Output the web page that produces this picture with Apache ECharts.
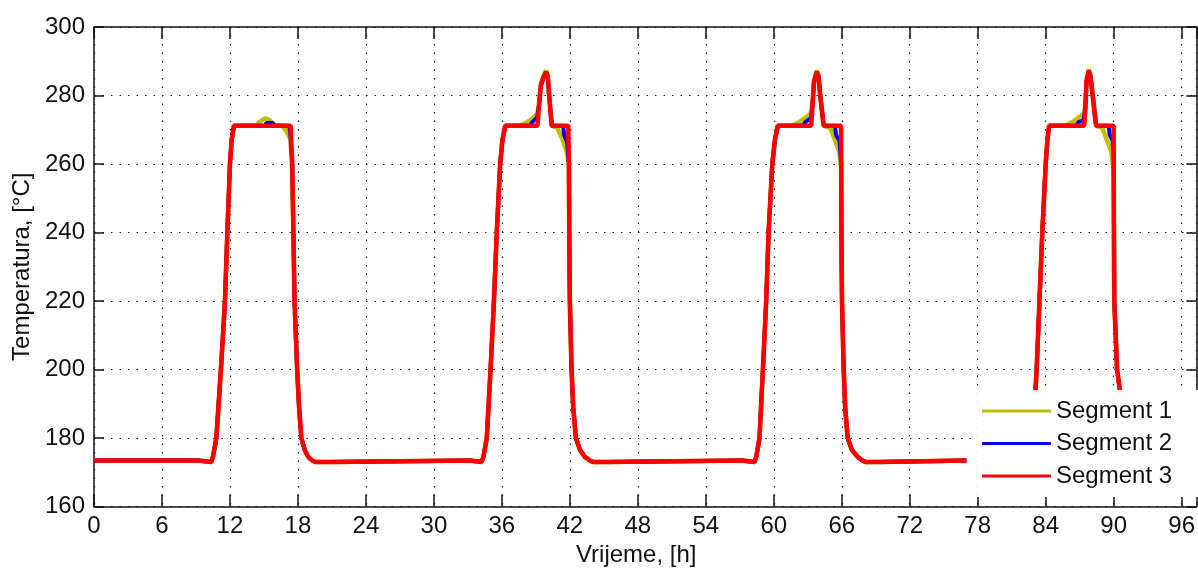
<!DOCTYPE html>
<html>
<head>
<meta charset="utf-8">
<script src="https://cdn.jsdelivr.net/npm/echarts@6/dist/echarts.min.js"></script>
<style>
html,body{margin:0;padding:0;background:#fff;}
#chart{width:1198px;height:575px;}
</style>
</head>
<body>
<div id="chart"></div>
<script>
// ---- data: [hour, temperature °C] ----
var seriesNames = ['Segment 1', 'Segment 2', 'Segment 3'];
var xTicks = [0, 6, 12, 18, 24, 30, 36, 42, 48, 54, 60, 66, 72, 78, 84, 90, 96];
var yTicks = [160, 180, 200, 220, 240, 260, 280, 300];

var segment1 = [
  [0,173.4],[9.2,173.4],[9.35,173.0],[10.35,173.0],[10.5,174.5],[10.8,180],[11.0,190],[11.2,200],[11.4,211],[11.56,220],[11.77,240],[12.0,260],[12.15,267],[12.35,271.2],
  [14.3,271.3],[14.7,272.5],[15.1,273.3],[15.5,272.8],[15.9,271.5],[16.6,271.2],[17.0,269.5],[17.3,267.5],[17.45,262],[17.6,240],[17.7,220],[17.93,200],[18.1,189],[18.3,180],[18.6,176.5],[18.9,174.5],[19.2,173.6],[19.55,173.0],[20.9,173.0],[21.0,173.4],
  [33.2,173.4],[33.35,173.0],[34.2,173.0],[34.37,174.5],[34.67,180],[35.0,200],[35.3,220],[35.55,240],[35.85,260],[36.05,267],[36.3,271.2],
  [37.7,271.3],[38.3,272.3],[38.8,273.6],[39.15,274.8],[39.25,277],[39.45,283.5],[39.7,286],[39.9,287.3],[40.05,286],[40.2,279],[40.4,271.2],[40.9,270.5],[41.3,267.5],[41.7,264],[41.9,260],[41.95,240],[42.0,220],[42.15,200],[42.3,189],[42.53,180],[42.9,176.5],[43.33,174.5],[43.7,173.6],[44.06,173.0],[45.2,173.0],[45.3,173.4],
  [57.2,173.4],[57.35,173.0],[58.3,173.0],[58.45,174.5],[58.74,180],[59.04,200],[59.33,220],[59.54,240],[59.87,260],[60.1,267],[60.36,271.2],
  [61.7,271.3],[62.3,272.3],[62.8,273.6],[63.25,274.6],[63.4,277],[63.55,284.5],[63.8,287.3],[63.95,286],[64.1,280],[64.4,271.2],[65.0,270.5],[65.4,267],[65.8,263.5],[65.95,258],[65.97,240],[66.02,220],[66.17,200],[66.3,189],[66.52,180],[66.9,176.5],[67.4,174.5],[67.75,173.6],[68.1,173.0],[69.2,173.0],[69.3,173.4],[77.0,173.4],
  [80,'-'],
  [83.1,194],[83.2,200],[83.45,220],[83.7,240],[84.0,260],[84.15,267],[84.3,271.2],
  [85.8,271.3],[86.4,272.3],[86.9,273.6],[87.35,274.6],[87.5,277],[87.6,284.5],[87.8,287.7],[87.95,286],[88.15,280],[88.45,271.2],[89.0,270.5],[89.4,267],[89.8,263.5],[90.0,258],[90.03,240],[90.06,220],[90.3,200],[90.55,194]
];

var segment2 = [
  [0,173.4],[9.2,173.4],[9.35,173.0],[10.35,173.0],[10.5,174.5],[10.8,180],[11.0,190],[11.2,200],[11.4,211],[11.56,220],[11.77,240],[12.0,260],[12.15,267],[12.35,271.2],
  [15.1,271.2],[15.2,272],[15.8,272],[15.9,271.2],[17.2,271.2],[17.32,269.5],[17.5,260],[17.6,240],[17.7,220],[17.93,200],[18.1,189],[18.3,180],[18.6,176.5],[18.9,174.5],[19.2,173.6],[19.55,173.0],[20.9,173.0],[21.0,173.4],
  [33.2,173.4],[33.35,173.0],[34.2,173.0],[34.37,174.5],[34.67,180],[35.0,200],[35.3,220],[35.55,240],[35.85,260],[36.05,267],[36.3,271.2],
  [38.5,271.2],[38.7,272.3],[39.1,273.5],[39.25,276.5],[39.45,283],[39.7,285.5],[39.9,286.9],[40.05,285.5],[40.2,279],[40.4,271.2],[41.4,271.2],[41.5,268.5],[41.75,266.5],[41.92,260],[41.95,240],[42.0,220],[42.15,200],[42.3,189],[42.53,180],[42.9,176.5],[43.33,174.5],[43.7,173.6],[44.06,173.0],[45.2,173.0],[45.3,173.4],
  [57.2,173.4],[57.35,173.0],[58.3,173.0],[58.45,174.5],[58.74,180],[59.04,200],[59.33,220],[59.54,240],[59.87,260],[60.1,267],[60.36,271.2],
  [62.6,271.2],[62.8,272.3],[63.25,273.3],[63.4,276.5],[63.55,284],[63.8,286.9],[63.95,285.5],[64.1,280],[64.4,271.2],[65.4,271.2],[65.5,268.5],[65.8,266.8],[65.95,260],[65.97,240],[66.02,220],[66.17,200],[66.3,189],[66.52,180],[66.9,176.5],[67.4,174.5],[67.75,173.6],[68.1,173.0],[69.2,173.0],[69.3,173.4],[77.0,173.4],
  [80,'-'],
  [83.1,194],[83.2,200],[83.45,220],[83.7,240],[84.0,260],[84.15,267],[84.3,271.2],
  [86.7,271.2],[86.9,272.2],[87.35,272.8],[87.5,276.5],[87.6,284],[87.8,287.2],[87.95,285.5],[88.15,280],[88.45,271.2],[89.55,271.2],[89.65,268.5],[89.9,266.8],[90.0,262],[90.03,240],[90.06,220],[90.3,200],[90.55,194]
];

var segment3 = [
  [0,173.4],[9.2,173.4],[9.35,173.0],[10.35,173.0],[10.5,174.5],[10.8,180],[11.0,190],[11.2,200],[11.4,211],[11.56,220],[11.77,240],[12.0,260],[12.15,267],[12.35,271.2],
  [17.35,271.2],[17.5,260],[17.6,240],[17.7,220],[17.93,200],[18.1,189],[18.3,180],[18.6,176.5],[18.9,174.5],[19.2,173.6],[19.55,173.0],[20.9,173.0],[21.0,173.4],
  [33.2,173.4],[33.35,173.0],[34.2,173.0],[34.37,174.5],[34.67,180],[35.0,200],[35.3,220],[35.55,240],[35.85,260],[36.05,267],[36.3,271.2],
  [39.15,271.2],[39.25,276],[39.45,283],[39.7,285.5],[39.9,286.8],[40.05,285.5],[40.2,279],[40.4,271.2],[41.86,271.2],[41.92,260],[41.95,240],[42.0,220],[42.15,200],[42.3,189],[42.53,180],[42.9,176.5],[43.33,174.5],[43.7,173.6],[44.06,173.0],[45.2,173.0],[45.3,173.4],
  [57.2,173.4],[57.35,173.0],[58.3,173.0],[58.45,174.5],[58.74,180],[59.04,200],[59.33,220],[59.54,240],[59.87,260],[60.1,267],[60.36,271.2],
  [63.3,271.2],[63.4,276],[63.55,284],[63.8,286.8],[63.95,285.5],[64.1,280],[64.4,271.2],[65.93,271.2],[65.95,260],[65.97,240],[66.02,220],[66.17,200],[66.3,189],[66.52,180],[66.9,176.5],[67.4,174.5],[67.75,173.6],[68.1,173.0],[69.2,173.0],[69.3,173.4],[77.0,173.4],
  [80,'-'],
  [83.1,194],[83.2,200],[83.45,220],[83.7,240],[84.0,260],[84.15,267],[84.3,271.2],
  [87.4,271.2],[87.5,276],[87.6,284],[87.8,287.2],[87.95,285.5],[88.15,280],[88.45,271.2],[90.0,271.2],[90.02,240],[90.05,220],[90.3,200],[90.55,194]
];

var seriesColors = ['#bfbf00', '#0000ff', '#ff0000'];

// ---- chart ----
var FONT = "'Liberation Sans', Arial, sans-serif";
var chart = echarts.init(document.getElementById('chart'), null, {renderer: 'canvas'});
var gridDash = {color: '#222', width: 1.2, type: [1.5, 7]};
var axisLineStyle = {color: '#111', width: 1.5};
var xMin = xTicks[0], xMax = 97.3, xStep = xTicks[1] - xTicks[0];
var yMin = yTicks[0], yMax = yTicks[yTicks.length - 1], yStep = yTicks[1] - yTicks[0];

var option = {
  animation: false,
  backgroundColor: '#fff',
  textStyle: {fontFamily: FONT},
  grid: {left: 94, right: 0, top: 27, bottom: 68.5, containLabel: false},
  legend: {
    orient: 'vertical',
    left: 977, top: 390,
    padding: [8, 30, 8, 5],
    backgroundColor: '#fff',
    borderWidth: 0,
    icon: 'rect',
    itemWidth: 69, itemHeight: 3,
    itemGap: 6.5,
    textStyle: {fontSize: 24, color: '#111', fontFamily: FONT, lineHeight: 26},
    data: seriesNames
  },
  xAxis: [{
    type: 'value', min: xMin, max: xMax, interval: xStep,
    position: 'bottom',
    name: 'Vrijeme, [h]', nameLocation: 'middle', nameGap: 33,
    nameTextStyle: {fontSize: 24, color: '#111', fontFamily: FONT, padding: [0, 18, 0, 0]},
    axisLine: {show: true, onZero: false, lineStyle: axisLineStyle},
    axisTick: {show: true, inside: true, length: 12, lineStyle: axisLineStyle},
    axisLabel: {show: true, fontSize: 24, color: '#111', margin: 8, showMaxLabel: false, fontFamily: FONT,
      formatter: function (v) { return xTicks.indexOf(v) >= 0 ? String(v) : ''; }},
    splitLine: {show: true, lineStyle: gridDash}
  }, {
    type: 'value', min: xMin, max: xMax, interval: xStep,
    position: 'top',
    axisLine: {show: true, onZero: false, lineStyle: axisLineStyle},
    axisTick: {show: true, inside: true, length: 12, lineStyle: axisLineStyle},
    axisLabel: {show: false},
    splitLine: {show: false}
  }],
  yAxis: [{
    type: 'value', min: yMin, max: yMax, interval: yStep,
    position: 'left',
    name: 'Temperatura, [°C]', nameLocation: 'middle', nameGap: 56,
    nameTextStyle: {fontSize: 24, color: '#111', fontFamily: FONT},
    axisLine: {show: true, onZero: false, lineStyle: axisLineStyle},
    axisTick: {show: true, inside: true, length: 10, lineStyle: axisLineStyle},
    axisLabel: {show: true, fontSize: 24, color: '#111', margin: 9, fontFamily: FONT},
    splitLine: {show: true, lineStyle: gridDash}
  }, {
    type: 'value', min: yMin, max: yMax, interval: yStep,
    position: 'right',
    axisLine: {show: true, onZero: false, lineStyle: axisLineStyle},
    axisTick: {show: true, inside: true, length: 10, lineStyle: axisLineStyle},
    axisLabel: {show: false},
    splitLine: {show: false}
  }],
  series: [
    {name: seriesNames[0], type: 'line', data: segment1, showSymbol: false, symbol: 'none', connectNulls: false,
     color: seriesColors[0], lineStyle: {color: seriesColors[0], width: 4.5}, z: 2},
    {name: seriesNames[1], type: 'line', data: segment2, showSymbol: false, symbol: 'none', connectNulls: false,
     color: seriesColors[1], lineStyle: {color: seriesColors[1], width: 4}, z: 3},
    {name: seriesNames[2], type: 'line', data: segment3, showSymbol: false, symbol: 'none', connectNulls: false,
     color: seriesColors[2], lineStyle: {color: seriesColors[2], width: 4.5}, z: 4}
  ]
};
chart.setOption(option);
</script>
</body>
</html>
